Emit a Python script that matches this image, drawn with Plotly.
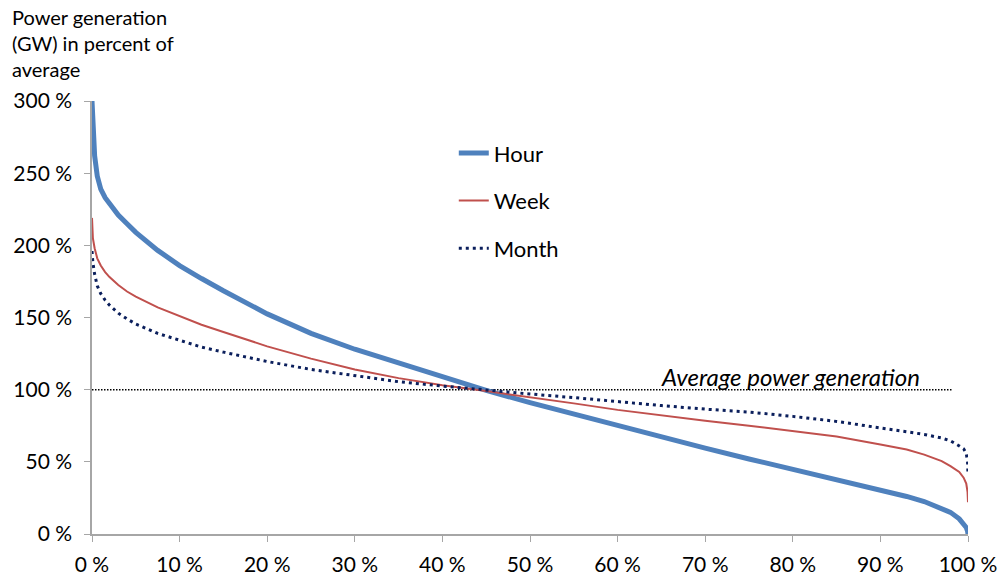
import plotly.graph_objects as go

share = [0, 0.1, 0.3, 0.6, 1, 1.5, 2, 3, 4, 5, 7.5, 10, 12.5, 15, 20, 25, 30, 35, 40, 45,
         50, 55, 60, 65, 70, 75, 80, 85, 90, 93, 95, 97, 98, 99, 99.5, 99.8, 99.95, 100]
hour = [300, 282, 262, 248, 239, 233, 228.5, 221, 215, 209, 196.5, 186, 177, 168.5, 152.5, 139, 128, 118.5, 109, 99.5,
        91, 83, 75, 67, 59.5, 52, 45, 38, 30.5, 26, 22.5, 18, 15, 10.5, 7.5, 4.5, 2, 0]
week = [219, 205, 198, 191, 186, 181.5, 178, 172.5, 168, 164.5, 157, 151, 145, 140, 130, 121.5, 114, 108, 103, 99,
        95, 90.5, 86, 82, 78.5, 75, 71.5, 67.5, 62, 58.5, 55, 50.5, 47, 43, 39, 35, 29, 22]
month = [196, 188, 180, 172, 166.5, 162, 158.5, 153, 149, 145.5, 139, 134, 129.5, 126, 119.5, 114, 109.5, 105.5, 102.5, 99.5,
         97, 94.5, 91.5, 89, 86.5, 84.5, 81.5, 78, 73.5, 71, 69, 66.5, 64.5, 61, 59, 56, 50, 41]

x_ticks = [0, 10, 20, 30, 40, 50, 60, 70, 80, 90, 100]
x_labels = ["0 %", "10 %", "20 %", "30 %", "40 %", "50 %", "60 %", "70 %", "80 %", "90 %", "100 %"]
y_ticks = [0, 50, 100, 150, 200, 250, 300]
y_labels = ["0 %", "50 %", "100 %", "150 %", "200 %", "250 %", "300 %"]
average_level = 100
average_end = 98.2

FONT = "Lato, 'Open Sans', sans-serif"

fig = go.Figure()
fig.add_trace(go.Scatter(x=share, y=hour, mode="lines", name="Hour", legendgroup="h",
                         line=dict(color="#4f81bd", width=5), cliponaxis=False))
fig.add_trace(go.Scatter(x=share, y=week, mode="lines", name="Week", legendgroup="w",
                         line=dict(color="#c0504d", width=2), cliponaxis=False))
fig.add_trace(go.Scatter(x=share, y=month, mode="lines", name="Month", legendgroup="m",
                         line=dict(color="#0b1f5c", width=3, dash="3px,4px"), cliponaxis=False))

fig.add_shape(type="line", xref="x", yref="y", x0=0, x1=average_end, y0=average_level, y1=average_level,
              line=dict(color="black", width=1.5, dash="1.5px,1.5px"), layer="below")
fig.add_annotation(x=average_end - 3.5, y=average_level, xref="x", yref="y", text="<i>Average power generation</i>",
                   showarrow=False, xanchor="right", yanchor="bottom", yshift=-3,
                   font=dict(family=FONT, size=24, color="black"))
fig.add_annotation(xref="paper", yref="paper", x=-82/876, y=1 + 98/433, xanchor="left", yanchor="top",
                   text="Power generation<br>(GW) in percent of<br>average", align="left", showarrow=False,
                   font=dict(family=FONT, size=20, color="black"))

fig.update_layout(
    width=1000, height=579,
    margin=dict(l=92, r=32, t=101, b=45),
    paper_bgcolor="white", plot_bgcolor="white",
    font=dict(family=FONT, size=21, color="black"),
    showlegend=True,
    legend=dict(x=0.413, y=0.928, xanchor="left", yanchor="top", bgcolor="rgba(0,0,0,0)",
                font=dict(family=FONT, size=22), tracegroupgap=16),
    xaxis=dict(range=[0, 100], tickmode="array", tickvals=x_ticks, ticktext=x_labels, showgrid=False,
               zeroline=False, showline=True, linecolor="#a6a6a6", linewidth=1.5, ticks="outside", ticklen=6,
               tickcolor="#a6a6a6", tickfont=dict(size=21), ticklabelstandoff=5, automargin=False),
    yaxis=dict(range=[0, 300], tickmode="array", tickvals=y_ticks, ticktext=y_labels, showgrid=False,
               zeroline=False, showline=True, linecolor="#a6a6a6", linewidth=1.5, ticks="outside", ticklen=6,
               tickcolor="#a6a6a6", tickfont=dict(size=21), ticklabelstandoff=8, automargin=False),
)

fig.write_html("out.html")
